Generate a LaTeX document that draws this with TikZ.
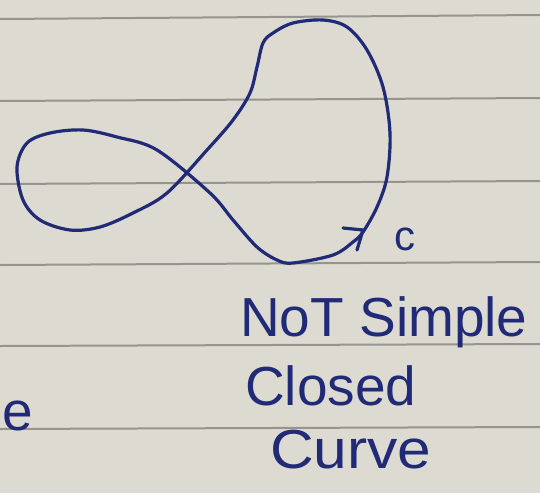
\documentclass[tikz,border=0pt]{standalone}
\usepackage{fontspec}
\setmainfont{Liberation Sans}
\definecolor{paper}{RGB}{221,219,209}
\definecolor{rule}{RGB}{150,148,142}
\definecolor{ink}{RGB}{32,42,118}
\begin{document}
\begin{tikzpicture}[x=1pt,y=-1pt,
  ruleline/.style={rule,line width=2pt},
  pen/.style={ink,line width=3.2pt,line cap=round,line join=round},
  hand/.style={ink,inner sep=0pt,anchor=base west,font=\fontsize{55}{55}\selectfont}]
\fill[paper] (0,0) rectangle (540,493);
\useasboundingbox (0,0) rectangle (540,493);
% ruled lines
\draw[ruleline] (0,19) -- (540,15);
\draw[ruleline] (0,101) -- (540,98);
\draw[ruleline] (0,184) -- (540,181);
\draw[ruleline] (0,265) -- (540,262);
\draw[ruleline] (0,346) -- (540,344);
\draw[ruleline] (0,429) -- (540,427);
% curve
\draw[pen] plot[smooth cycle,tension=0.55] coordinates {
 (210,193) (233,220) (257,247) (277,260) (293,263) (333,255) (353,242)
 (363,232) (377,207) (387,177) (390,133) (383,87) (367,50) (347,27)
 (323,20) (293,23) (273,33) (263,43) (257,67) (250,93) (233,120)
 (207,150) (167,193) (133,213) (100,227) (70,230) (40,220) (23,200)
 (17,167) (27,143) (50,133) (83,130) (117,137) (157,150)};
% arrowhead
\coordinate (a1) at (343,228);
\coordinate (a2) at (363,230);
\coordinate (a3) at (357,250);
\draw[pen] (a1) -- (a2) -- (a3);
% labels
\node[hand,font=\fontsize{42}{42}\selectfont] (c) at (394,250) {c};
\node[hand] (l1) at (240,336) {NoT Simple};
\node[hand] (l2) at (245,405) {Closed};
\node[hand,xscale=1.1] (l3) at (270,468) {Curve};
\node[hand] (e) at (2,430) {e};
\end{tikzpicture}
\end{document}
